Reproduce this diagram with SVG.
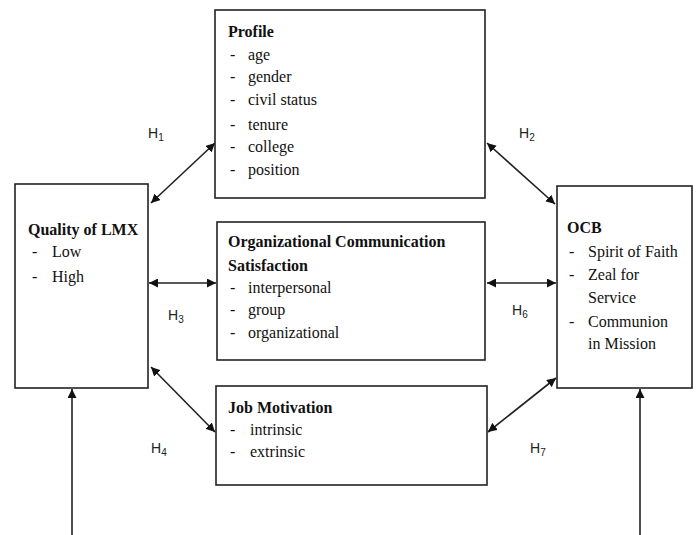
<svg xmlns="http://www.w3.org/2000/svg" width="696" height="535" viewBox="0 0 696 535">
  <style>
    .box { fill: #ffffff; stroke: #222222; stroke-width: 1.6; }
    .t { font-family: "Liberation Serif", "Times New Roman", serif; font-size: 16px; fill: #111111; }
    .b { font-weight: bold; }
    .h { font-family: "Liberation Sans", Arial, sans-serif; font-size: 14px; fill: #222222; }
    .sub { font-size: 10px; }
    .conn { stroke: #222222; stroke-width: 1.6; fill: none; marker-start: url(#ah); marker-end: url(#ah); }
    .up { stroke: #222222; stroke-width: 1.6; fill: none; marker-end: url(#ah); }
  </style>
  <defs>
    <marker id="ah" viewBox="0 0 10 10" refX="10" refY="5" markerWidth="9" markerHeight="9" markerUnits="userSpaceOnUse" orient="auto-start-reverse">
      <path d="M0,0 L10,5 L0,10 Z" fill="#111111"/>
    </marker>
  </defs>
  <rect width="696" height="535" fill="#ffffff"/>

  <g id="connectors">
    <line class="conn" x1="151" y1="203" x2="215" y2="143"/>
    <line class="conn" x1="487" y1="143" x2="555" y2="204"/>
    <line class="conn" x1="149" y1="283" x2="216" y2="283"/>
    <line class="conn" x1="487" y1="283" x2="556" y2="283"/>
    <line class="conn" x1="151" y1="367" x2="215" y2="432"/>
    <line class="conn" x1="488" y1="432" x2="556" y2="378"/>
    <line class="up" x1="72" y1="535" x2="72" y2="389"/>
    <line class="up" x1="640" y1="535" x2="640" y2="389"/>
    <text class="h" x="148" y="138">H<tspan class="sub" dy="3">1</tspan></text>
    <text class="h" x="519" y="138">H<tspan class="sub" dy="3">2</tspan></text>
    <text class="h" x="168" y="320">H<tspan class="sub" dy="3">3</tspan></text>
    <text class="h" x="512" y="315">H<tspan class="sub" dy="3">6</tspan></text>
    <text class="h" x="151" y="453">H<tspan class="sub" dy="3">4</tspan></text>
    <text class="h" x="530" y="453">H<tspan class="sub" dy="3">7</tspan></text>
  </g>

  <g id="profile">
    <rect class="box" x="215" y="10" width="270" height="188"/>
    <text class="t b" x="228" y="37">Profile</text>
    <text class="t" x="230" y="60">-</text><text class="t" x="248" y="60">age</text>
    <text class="t" x="230" y="82">-</text><text class="t" x="248" y="82">gender</text>
    <text class="t" x="230" y="105">-</text><text class="t" x="248" y="105">civil status</text>
    <text class="t" x="230" y="130">-</text><text class="t" x="248" y="130">tenure</text>
    <text class="t" x="230" y="152">-</text><text class="t" x="248" y="152">college</text>
    <text class="t" x="230" y="175">-</text><text class="t" x="248" y="175">position</text>
  </g>

  <g id="quality-lmx">
    <rect class="box" x="15" y="184" width="133" height="204"/>
    <text class="t b" x="28" y="235">Quality of LMX</text>
    <text class="t" x="32" y="257">-</text><text class="t" x="52" y="257">Low</text>
    <text class="t" x="32" y="282">-</text><text class="t" x="52" y="282">High</text>
  </g>

  <g id="communication">
    <rect class="box" x="217" y="222" width="268" height="138"/>
    <text class="t b" x="228" y="247">Organizational Communication</text>
    <text class="t b" x="228" y="271">Satisfaction</text>
    <text class="t" x="230" y="293">-</text><text class="t" x="248" y="293">interpersonal</text>
    <text class="t" x="230" y="315">-</text><text class="t" x="248" y="315">group</text>
    <text class="t" x="230" y="338">-</text><text class="t" x="248" y="338">organizational</text>
  </g>

  <g id="ocb">
    <rect class="box" x="557" y="186" width="135" height="202"/>
    <text class="t b" x="567" y="233">OCB</text>
    <text class="t" x="569" y="257">-</text><text class="t" x="588" y="257">Spirit of Faith</text>
    <text class="t" x="569" y="280">-</text><text class="t" x="588" y="280">Zeal for</text>
    <text class="t" x="588" y="303">Service</text>
    <text class="t" x="569" y="327">-</text><text class="t" x="588" y="327">Communion</text>
    <text class="t" x="588" y="349">in Mission</text>
  </g>

  <g id="job-motivation">
    <rect class="box" x="216" y="386" width="271" height="99"/>
    <text class="t b" x="228" y="413">Job Motivation</text>
    <text class="t" x="230" y="435">-</text><text class="t" x="250" y="435">intrinsic</text>
    <text class="t" x="230" y="457">-</text><text class="t" x="250" y="457">extrinsic</text>
  </g>
</svg>
